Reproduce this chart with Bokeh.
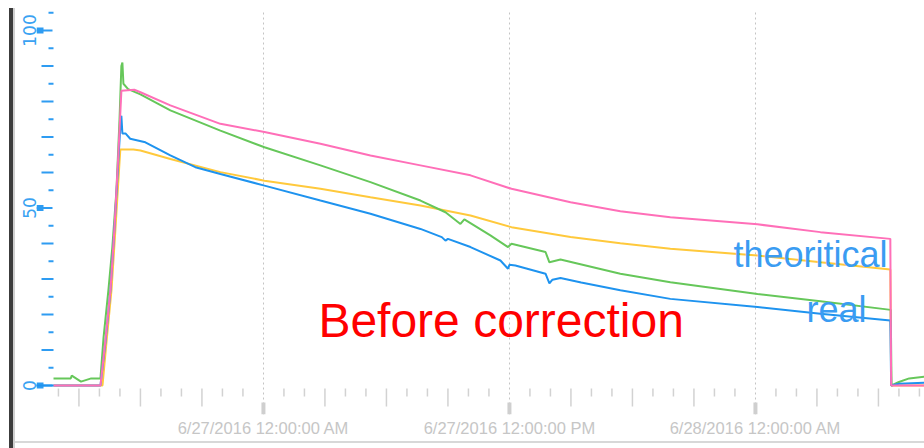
import pandas as pd
from bokeh.plotting import figure
from bokeh.models import Range1d, FixedTicker, Label
from bokeh.embed import file_html
from bokeh.resources import INLINE

# ---- data (time in hours since 6/27/2016 12:00:00 AM) ----
blue_h = [-11.2, -7.95, -7.71, -7.46, -7.27, -7.07, -6.98, -6.93, -6.88, -6.73, -6.5, -5.76,
          -4.54, -3.32, -2.1, 0.05, 2.78, 5.22, 7.66, 8.7, 8.88, 9.0, 10.1, 11.56, 11.93,
          12.0, 12.29, 13.76, 13.95, 14.1, 14.49, 15.5, 17.41, 19.85, 24.1, 27.17, 30.58,
          30.62, 31.0, 32.3]
blue_v = [0, 0, 12, 27, 44, 64, 73, 76, 71, 71, 69.5, 68.5,
          64.8, 61.5, 59.6, 56.3, 52.1, 48.4, 44.1, 41.8, 40.8, 41.3, 39, 35.2, 32.9,
          34.0, 33.8, 31.5, 28.8, 29.8, 30.3, 29.0, 26.8, 24.4, 22.1, 20.2, 18.3,
          0, 0.5, 0.8]

green_h = [-10.24, -9.4, -9.35, -8.9, -8.4, -7.95, -7.8, -7.56, -7.37, -7.17, -7.02, -6.93,
           -6.88, -6.83, -6.6, -6.0, -4.54, -2.1, 0.05, 2.78, 5.22, 7.66, 8.88, 9.61, 9.8,
           11.07, 11.93, 12.1, 13.76, 13.95, 14.49, 17.41, 19.85, 24.1, 27.17, 30.6,
           30.64, 31.0, 31.5, 32.3]
green_v = [2, 2, 2.8, 1.1, 2, 2, 13.5, 27, 39, 55, 75, 90,
           91, 85, 83.5, 82, 77.5, 71.8, 67.1, 62, 57.3, 52.1, 48.8, 45.5, 46.8,
           42.3, 39, 39.9, 37.6, 34.7, 35.5, 31.5, 29.1, 25.8, 23.7, 21.3,
           0, 1.0, 2.0, 2.5]

pink_h = [-10.24, -7.95, -7.71, -7.46, -7.27, -7.07, -6.93, -6.3, -6.0, -4.54, -2.1, 0.05,
          2.78, 5.22, 7.66, 10.1, 12.1, 14.98, 17.41, 19.85, 24.1, 27.17, 30.58, 30.62, 32.3]
pink_v = [0, 0, 12.7, 27, 44, 66, 83, 83.3, 82.6, 78.9, 73.7, 71.4,
          68.1, 64.8, 62.0, 59.2, 55.4, 51.6, 49.1, 47.4, 45.4, 43.2, 41.3, 0, 0]

yellow_h = [-10.24, -7.85, -7.66, -7.41, -7.22, -7.02, -6.98, -6.34, -6.0, -4.54, -2.1, 0.05,
            2.78, 5.22, 7.66, 10.1, 12.1, 14.98, 17.41, 19.85, 24.1, 27.17, 30.58, 30.62, 32.3]
yellow_v = [0, 0, 12, 27, 44, 63, 66.5, 66.5, 66.2, 63.8, 60.1, 57.7,
            55.4, 53, 50.7, 47.9, 44.6, 41.8, 40.1, 38.5, 36.6, 34.7, 32.7, 0, 0]

x_tick_hours = [0, 12, 24]
x_tick_labels = ["6/27/2016 12:00:00 AM", "6/27/2016 12:00:00 PM", "6/28/2016 12:00:00 AM"]
y_tick_values = [0, 50, 100]

annotations = [("theoritical", 22.93, 36.9, "#3a9cf2", "36px"),
               ("real", 26.49, 21.4, "#3a9cf2", "36px"),
               ("Before correction", 2.68, 18.3, "#ff0000", "48px")]

# ---- helpers ----
BASE_MS = pd.Timestamp("2016-06-27 00:00").value // 10**6
HOUR_MS = 3600000


def t(hours):
    return [int(BASE_MS + h * HOUR_MS) for h in hours]


W, H = 924, 448
LEFT, TOP, BOTTOM = 36, 10, 34
FW, FH = W - LEFT, H - TOP - BOTTOM
X0 = -11.07  # hours at frame left

p = figure(width=W, height=H, output_backend="svg", toolbar_location=None,
           x_range=Range1d(BASE_MS + X0 * HOUR_MS, BASE_MS + (X0 + FW / 20.5) * HOUR_MS),
           y_range=Range1d(-8.17, 105.63),
           min_border_left=LEFT, min_border_right=0, min_border_top=TOP, min_border_bottom=BOTTOM)
p.outline_line_color = None
p.background_fill_color = "white"
p.border_fill_color = None
p.styles = {
    "background-color": "white",
    "background-image": "linear-gradient(#3c3c3c,#3c3c3c), linear-gradient(#cfcfcf,#cfcfcf), "
                        "linear-gradient(#d8d8d8,#d8d8d8)",
    "background-size": "4px 440px, 2px 440px, 910px 2px",
    "background-position": "9px 8px, 13px 8px, 14px 441px",
    "background-repeat": "no-repeat",
}
p.extra_x_ranges = {"px": Range1d(0, FW)}
p.extra_y_ranges = {"py": Range1d(0, FH)}

# grid
p.ygrid.visible = False
p.xgrid.ticker = FixedTicker(ticks=t(x_tick_hours))
p.xgrid.grid_line_color = "#c4c4c4"
p.xgrid.grid_line_dash = "2 3"
p.xgrid.grid_line_width = 1

# x axis
xa = p.xaxis[0]
xa.ticker = FixedTicker(ticks=t(x_tick_hours), minor_ticks=[])
xa.major_label_overrides = {k: v for k, v in zip(t(x_tick_hours), x_tick_labels)}
xa.axis_line_color = None
xa.major_tick_line_color = None
xa.minor_tick_line_color = None
xa.major_tick_in = 0
xa.major_tick_out = 0
xa.major_label_standoff = 4
xa.major_label_text_font = "Liberation Sans"
xa.major_label_text_font_size = "16.5px"
xa.major_label_text_color = "#c6c6c6"

# y axis
ya = p.yaxis[0]
ya.ticker = FixedTicker(ticks=y_tick_values, minor_ticks=[])
ya.axis_line_color = None
ya.major_tick_line_color = None
ya.minor_tick_line_color = None
ya.major_tick_in = 0
ya.major_tick_out = 0
ya.major_label_standoff = 0
ya.major_label_orientation = "vertical"
ya.major_label_text_font = "DejaVu Sans"
ya.major_label_text_font_size = "17px"
ya.major_label_text_color = "#3aa2f2"

# y tick decorations (inside frame, pixel offsets via "px" range)
TICK_BLUE = "#2e9cf2"
long_y = [v for v in range(10, 100, 10) if v % 50 != 0]
short_y = [v for v in range(5, 106, 10)]
p.segment(x0=[5] * len(long_y), y0=long_y, x1=[17] * len(long_y), y1=long_y,
          x_range_name="px", line_color=TICK_BLUE, line_width=2)
p.segment(x0=[12] * len(short_y), y0=short_y, x1=[17] * len(short_y), y1=short_y,
          x_range_name="px", line_color=TICK_BLUE, line_width=2)
p.segment(x0=[0] * 3, y0=y_tick_values, x1=[16] * 3, y1=y_tick_values,
          x_range_name="px", line_color=TICK_BLUE, line_width=2)
p.segment(x0=[0] * 3, y0=y_tick_values, x1=[7] * 3, y1=y_tick_values,
          x_range_name="px", line_color=TICK_BLUE, line_width=6)

# x tick decorations (inside frame, pixel offsets via "py" range)
TICK_GREY = "#d2d2d2"
minor_h = [h for h in range(-10, 33) if h % 12 != 0]
long_h = [h for h in minor_h if h % 3 == 0]
short_h = [h for h in minor_h if h % 3 != 0]
p.segment(x0=t(short_h), y0=[26] * len(short_h), x1=t(short_h), y1=[18] * len(short_h),
          y_range_name="py", line_color=TICK_GREY, line_width=1.5)
p.segment(x0=t(long_h), y0=[26] * len(long_h), x1=t(long_h), y1=[8] * len(long_h),
          y_range_name="py", line_color=TICK_GREY, line_width=1.5)
p.segment(x0=t(x_tick_hours), y0=[12] * 3, x1=t(x_tick_hours), y1=[0] * 3,
          y_range_name="py", line_color="#cfcfcf", line_width=4)

# data lines
p.line(t(yellow_h), yellow_v, line_color="#ffc93c", line_width=2)
p.line(t(green_h), green_v, line_color="#66c75a", line_width=2)
p.line(t(blue_h), blue_v, line_color="#1e93ef", line_width=2)
p.line(t(pink_h), pink_v, line_color="#ff6fb8", line_width=2)

# text annotations
for txt, h, v, col, size in annotations:
    p.add_layout(Label(x=t([h])[0], y=v, text=txt, text_color=col, text_font="Liberation Sans",
                       text_font_size=size, text_align="left", text_baseline="alphabetic"))

open("out.html", "w").write(file_html(p, INLINE))
